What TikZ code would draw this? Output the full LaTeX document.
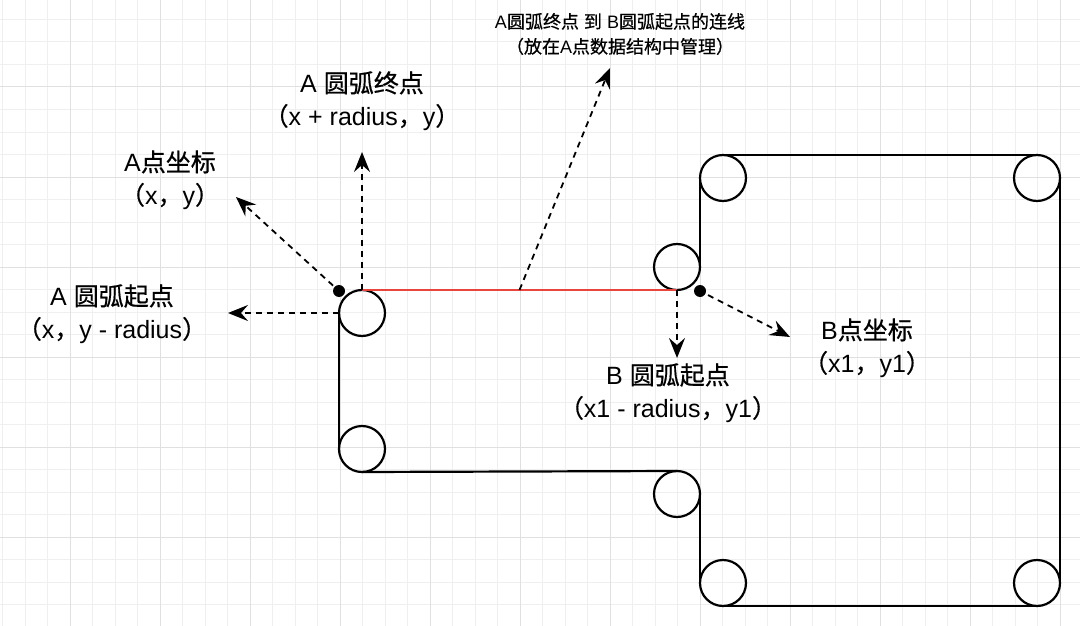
\documentclass[tikz,border=0pt]{standalone}
\usepackage{fontspec}
\setmainfont{Liberation Sans}
\newfontfamily\cjk{Noto Sans CJK SC}[FakeBold=0.6]
\newcommand{\zh}[1]{{\cjk #1}}
\usetikzlibrary{arrows.meta,calc}
\definecolor{gridminor}{HTML}{EFEFEF}
\definecolor{gridmajor}{HTML}{E0E0E0}
\definecolor{redline}{HTML}{E8453C}
\tikzset{
  corner/.style={circle,draw=black,line width=2.2pt,minimum size=46pt,inner sep=0pt,outer sep=0pt},
  dotmark/.style={circle,fill=black,minimum size=12pt,inner sep=0pt,outer sep=0pt},
  outline/.style={line width=2.2pt,black},
  pointer/.style={line width=1.8pt,dash pattern=on 6pt off 5pt,-{Stealth[length=20pt,width=16pt,inset=7pt]}},
  lbl/.style={align=center,font=\fontsize{25}{33}\selectfont,inner sep=0pt},
  toplbl/.style={align=center,font=\fontsize{18}{25}\selectfont,inner sep=0pt}
}
\begin{document}
\begin{tikzpicture}[x=1pt,y=-1pt]
\useasboundingbox (0,0) rectangle (1080,626);
\fill[white] (0,0) rectangle (1080,626);
% grid
\foreach \i in {0,...,48} {\draw[gridminor,line width=1pt] ({2.5+22.5*\i},0) -- ({2.5+22.5*\i},626);}
\foreach \i in {0,...,27} {\draw[gridminor,line width=1pt] (0,{19.5+22.5*\i}) -- (1080,{19.5+22.5*\i});}
\foreach \i in {0,...,11} {\draw[gridmajor,line width=1pt] ({70+90*\i},0) -- ({70+90*\i},626);}
\foreach \i in {0,...,6} {\draw[gridmajor,line width=1pt] (0,{87+90*\i}) -- (1080,{87+90*\i});}

% corner circles
\node[corner] (cA) at (362,313) {};
\node[corner] (cA2) at (362,449) {};
\node[corner] (cC) at (677,494) {};
\node[corner] (cBL) at (723,583) {};
\node[corner] (cBR) at (1037,583) {};
\node[corner] (cTR) at (1037,178) {};
\node[corner] (cTL) at (723,178) {};
\node[corner] (cB) at (677,267) {};

% outline
\draw[outline] (cA.west) -- (cA2.west);
\draw[outline] (cA2.south) -- (cC.north);
\draw[outline] (cC.east) -- (cBL.west);
\draw[outline] (cBL.south) -- (cBR.south);
\draw[outline] (cBR.east) -- (cTR.east);
\draw[outline] (cTR.north) -- (cTL.north);
\draw[outline] (cTL.west) -- (cB.east);
\draw[redline,line width=1.8pt] (cA.north) -- (cB.south);

% dots
\node[dotmark] (dA) at (339,291) {};
\node[dotmark] (dB) at (700,291) {};

% arrow ends
\coordinate (mid) at ($(cA.north)!0.5!(cB.south)$);
\coordinate (tEnd) at (362,152);
\coordinate (tA) at (236,197);
\coordinate (tStart) at (228,313);
\coordinate (tTop) at (610,68);
\coordinate (tBs) at (677,358);
\coordinate (tB) at (790,337);

\draw[pointer] (cA.north) -- (tEnd);
\draw[pointer,shorten <=2pt] (dA) -- (tA);
\draw[pointer] (cA.west) -- (tStart);
\draw[pointer] (mid) -- (tTop);
\draw[pointer] (cB.south) -- (tBs);
\draw[pointer,shorten <=3pt] (dB) -- (tB);

% labels
\node[toplbl] (lTop) at (620,34) {A\zh{圆弧终点} \zh{到} B\zh{圆弧起点的连线}\\\zh{（放在}A\zh{点数据结构中管理）}};
\node[lbl] (lEnd) at (362,101) {A \zh{圆弧终点}\\\zh{（}x + radius\zh{，}y\zh{）}};
\node[lbl] (lA) at (170,180) {A\zh{点坐标}\\\zh{（}x\zh{，}y\zh{）}};
\node[lbl] (lStart) at (112,314) {A \zh{圆弧起点}\\\zh{（}x\zh{，}y - radius\zh{）}};
\node[lbl] (lBs) at (668,393) {B \zh{圆弧起点}\\\zh{（}x1 - radius\zh{，}y1\zh{）}};
\node[lbl] (lB) at (867,348) {B\zh{点坐标}\\\zh{（}x1\zh{，}y1\zh{）}};
\end{tikzpicture}
\end{document}
